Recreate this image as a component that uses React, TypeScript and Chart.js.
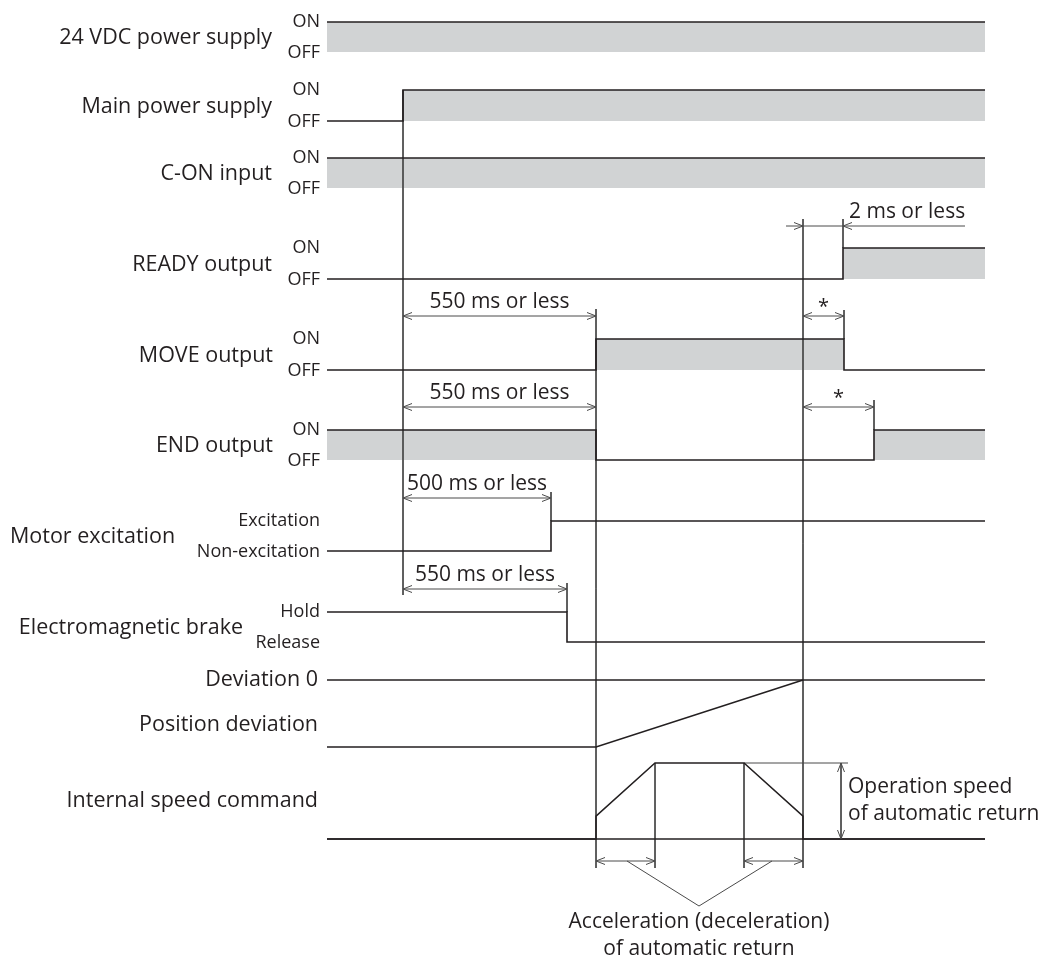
import React, { useEffect, useRef } from "react";
import { Chart, registerables } from "chart.js";

Chart.register(...registerables);

// ---------- time axis (arbitrary time units, 0 = left edge of waveforms) ----------
const X_MIN = -327;
const X_MAX = 720;
const Y_MIN = 0;
const Y_MAX = 963;

const T_START = 0;
const T_FINISH = 658;
const T_MAIN_ON = 76;
const T_EXCITE = 224;
const T_BRAKE = 240;
const T_MOVE_ON = 269;
const T_ACC_END = 328;
const T_DEC_START = 417;
const T_ZERO_DEV = 476;
const T_READY_ON = 516;
const T_MOVE_OFF = 517;
const T_END_ON = 547;

// ---------- signal rows ----------
const ROW_NAMES = [
  "24 VDC power supply",
  "Main power supply",
  "C-ON input",
  "READY output",
  "MOVE output",
  "END output",
  "Motor excitation",
  "Electromagnetic brake",
];
const ROW_HIGH_LABELS = ["ON", "ON", "ON", "ON", "ON", "ON", "Excitation", "Hold"];
const ROW_LOW_LABELS = ["OFF", "OFF", "OFF", "OFF", "OFF", "OFF", "Non-excitation", "Release"];
const ROW_HIGH_Y = [22, 90, 158, 248, 339, 430, 521, 612];
const ROW_LOW_Y = [52, 121, 188, 279, 370, 460, 551, 642];
const ROW_FILLED = [true, true, true, true, true, true, false, false];

// each signal: [time, level(0 = low, 1 = high)]
const SIG_24VDC = [[T_START, 1], [T_FINISH, 1]];
const SIG_MAIN = [[T_START, 0], [T_MAIN_ON, 0], [T_MAIN_ON, 1], [T_FINISH, 1]];
const SIG_CON = [[T_START, 1], [T_FINISH, 1]];
const SIG_READY = [[T_START, 0], [T_READY_ON, 0], [T_READY_ON, 1], [T_FINISH, 1]];
const SIG_MOVE = [[T_START, 0], [T_MOVE_ON, 0], [T_MOVE_ON, 1], [T_MOVE_OFF, 1], [T_MOVE_OFF, 0], [T_FINISH, 0]];
const SIG_END = [[T_START, 1], [T_MOVE_ON, 1], [T_MOVE_ON, 0], [T_END_ON, 0], [T_END_ON, 1], [T_FINISH, 1]];
const SIG_EXCITE = [[T_START, 0], [T_EXCITE, 0], [T_EXCITE, 1], [T_FINISH, 1]];
const SIG_BRAKE = [[T_START, 1], [T_BRAKE, 1], [T_BRAKE, 0], [T_FINISH, 0]];
const SIGNALS = [SIG_24VDC, SIG_MAIN, SIG_CON, SIG_READY, SIG_MOVE, SIG_END, SIG_EXCITE, SIG_BRAKE];

// analog rows
const DEV_ZERO_Y = 680;
const DEV_START_Y = 747;
const POS_DEV = [[T_START, 0], [T_MOVE_ON, 0], [T_ZERO_DEV, 1]]; // 1 = deviation 0
const SPEED_BASE_Y = 839;
const SPEED_TOP_Y = 763;
const SPEED = [
  [T_START, 0], [T_MOVE_ON, 0], [T_MOVE_ON, 0.3], [T_ACC_END, 1],
  [T_DEC_START, 1], [T_ZERO_DEV, 0.3], [T_ZERO_DEV, 0], [T_FINISH, 0],
];
const ANALOG_NAMES = ["Deviation 0", "Position deviation", "Internal speed command"];
const ANALOG_NAME_Y = [680, 725, 801];

// timing dimensions: [from, to, y, label]
const DIMS: [number, number, number, string][] = [
  [T_MAIN_ON, T_MOVE_ON, 316, "550 ms or less"],
  [T_MAIN_ON, T_MOVE_ON, 407, "550 ms or less"],
  [T_MAIN_ON, T_EXCITE, 498, "500 ms or less"],
  [T_MAIN_ON, T_BRAKE, 589, "550 ms or less"],
  [T_ZERO_DEV, T_MOVE_OFF, 316, "*"],
  [T_ZERO_DEV, T_END_ON, 407, "*"],
  [T_MOVE_ON, T_ACC_END, 861, ""],
  [T_DEC_START, T_ZERO_DEV, 861, ""],
];
const READY_DIM: [number, number, number, string] = [T_ZERO_DEV, T_READY_ON, 226, "2 ms or less"];

// extension (guide) lines: [time, yTop, yBottom]
const GUIDES: [number, number, number][] = [
  [T_MAIN_ON, 90, 595],
  [T_MOVE_ON, 309, 868],
  [T_ZERO_DEV, 219, 868],
  [T_READY_ON, 219, 248],
  [T_MOVE_OFF, 310, 339],
  [T_END_ON, 400, 430],
  [T_EXCITE, 492, 521],
  [T_BRAKE, 583, 612],
  [T_ACC_END, 763, 868],
  [T_DEC_START, 763, 868],
];
const T_SPEED_DIM = 514;
const T_SPEED_EXT_END = 521;
const BRACKET = [[300, 861], [372, 906], [445, 861]];

const INK = "#231f20";
const GUIDE = "#4a4a4a";
const GRAY = "#d1d3d4";
const FONT = '"Open Sans", "Noto Sans", sans-serif';

function levelY(row: number, level: number) {
  const lo = ROW_LOW_Y[row];
  const hi = ROW_HIGH_Y[row];
  return lo - level * (lo - hi);
}

function buildDatasets() {
  const ds: any[] = [];
  SIGNALS.forEach((sig, row) => {
    ds.push({
      data: sig.map(([t, l]) => ({ x: t, y: levelY(row, l) })),
      borderColor: INK,
      borderWidth: 1.6,
      backgroundColor: GRAY,
      fill: ROW_FILLED[row] ? { value: ROW_LOW_Y[row] } : false,
      pointRadius: 0,
      tension: 0,
    });
  });
  // deviation 0 reference line
  ds.push({
    data: [{ x: T_START, y: DEV_ZERO_Y }, { x: T_FINISH, y: DEV_ZERO_Y }],
    borderColor: INK, borderWidth: 1.3, pointRadius: 0, fill: false,
  });
  ds.push({
    data: POS_DEV.map(([t, l]) => ({ x: t, y: DEV_START_Y - l * (DEV_START_Y - DEV_ZERO_Y) })),
    borderColor: INK, borderWidth: 1.5, pointRadius: 0, fill: false,
  });
  // speed zero reference line
  ds.push({
    data: [{ x: T_START, y: SPEED_BASE_Y }, { x: T_FINISH, y: SPEED_BASE_Y }],
    borderColor: INK, borderWidth: 1.4, pointRadius: 0, fill: false,
  });
  ds.push({
    data: SPEED.map(([t, l]) => ({ x: t, y: SPEED_BASE_Y - l * (SPEED_BASE_Y - SPEED_TOP_Y) })),
    borderColor: INK, borderWidth: 1.5, pointRadius: 0, fill: false,
  });
  // guide & dimension lines
  const g: any[] = [];
  const brk = (x: number) => g.push({ x, y: null });
  GUIDES.forEach(([t, a, b]) => { g.push({ x: t, y: a }, { x: t, y: b }); brk(t); });
  [...DIMS].forEach(([a, b, y]) => { g.push({ x: a, y }, { x: b, y }); brk(b); });
  g.push({ x: READY_DIM[0] - 17, y: READY_DIM[2] }, { x: READY_DIM[1] + 122, y: READY_DIM[2] }); brk(0);
  g.push({ x: T_DEC_START, y: SPEED_TOP_Y }, { x: T_SPEED_EXT_END, y: SPEED_TOP_Y }); brk(0);
  g.push({ x: T_SPEED_DIM, y: SPEED_TOP_Y }, { x: T_SPEED_DIM, y: SPEED_BASE_Y }); brk(0);
  BRACKET.forEach(([t, y]) => g.push({ x: t, y }));
  ds.push({
    data: g, borderColor: GUIDE, borderWidth: 1, pointRadius: 0, fill: false, spanGaps: false,
  });
  return ds;
}

const annotatePlugin = {
  id: "annotate",
  afterDatasetsDraw(chart: any) {
    const ctx = chart.ctx as CanvasRenderingContext2D;
    const xs = chart.scales.x;
    const ys = chart.scales.y;
    const X = (t: number) => xs.getPixelForValue(t);
    const Y = (v: number) => ys.getPixelForValue(v);
    ctx.save();
    // arrow heads
    ctx.strokeStyle = GUIDE;
    ctx.lineWidth = 1;
    const head = (x: number, y: number, dx: number, dy: number) => {
      const L = 9, W = 3.5;
      ctx.beginPath();
      ctx.moveTo(x - dx * L + dy * W, y - dy * L + dx * W);
      ctx.lineTo(x, y);
      ctx.lineTo(x - dx * L - dy * W, y - dy * L - dx * W);
      ctx.stroke();
    };
    DIMS.forEach(([a, b, y]) => {
      head(X(a), Y(y), -1, 0);
      head(X(b), Y(y), 1, 0);
    });
    head(X(READY_DIM[0]), Y(READY_DIM[2]), 1, 0);
    head(X(READY_DIM[1]), Y(READY_DIM[2]), -1, 0);
    head(X(T_SPEED_DIM), Y(SPEED_TOP_Y), 0, -1);
    head(X(T_SPEED_DIM), Y(SPEED_BASE_Y), 0, 1);

    // texts
    ctx.fillStyle = INK;
    ctx.textBaseline = "middle";
    const text = (s: string, x: number, y: number, align: CanvasTextAlign, size: number) => {
      ctx.font = `${size}px ${FONT}`;
      ctx.textAlign = align;
      ctx.fillText(s, x, y);
    };
    const nameRight = [272, 272, 272, 272, 273, 273, 175, 243];
    ROW_NAMES.forEach((n, i) => {
      const mid = (ROW_HIGH_Y[i] + ROW_LOW_Y[i]) / 2 + 1;
      const x = i === 6 ? 10 : nameRight[i];
      text(n, x, Y(mid), i === 6 ? "left" : "right", 21.5);
      text(ROW_HIGH_LABELS[i], X(-7), Y(ROW_HIGH_Y[i]), "right", 18);
      text(ROW_LOW_LABELS[i], X(-7), Y(ROW_LOW_Y[i]) + 1, "right", 18);
    });
    ANALOG_NAMES.forEach((n, i) => text(n, X(-9), Y(ANALOG_NAME_Y[i]), "right", 21.5));

    DIMS.forEach(([a, b, y, label]) => {
      if (!label) return;
      if (label === "*") text(label, (X(a) + X(b)) / 2, Y(y) - 9, "center", 20);
      else text(label, (X(a) + X(b)) / 2, Y(y) - 14, "center", 21);
    });
    text(READY_DIM[3], X(READY_DIM[1]) + 6, Y(READY_DIM[2]) - 14, "left", 21);
    text("Operation speed", X(T_SPEED_EXT_END), Y(787), "left", 21);
    text("of automatic return", X(T_SPEED_EXT_END), Y(814), "left", 21);
    text("Acceleration (deceleration)", X(BRACKET[1][0]), Y(922), "center", 21);
    text("of automatic return", X(BRACKET[1][0]), Y(949), "center", 21);
    ctx.restore();
  },
};

export default function App() {
  const ref = useRef<HTMLCanvasElement | null>(null);
  useEffect(() => {
    document.body.style.margin = "0";
    if (!ref.current) return;
    const chart = new Chart(ref.current, {
      type: "line",
      data: { datasets: buildDatasets() },
      options: {
        animation: false,
        responsive: true,
        maintainAspectRatio: false,
        events: [],
        layout: { padding: 0 },
        scales: {
          x: { type: "linear", min: X_MIN, max: X_MAX, display: false },
          y: { type: "linear", min: Y_MIN, max: Y_MAX, reverse: true, display: false },
        },
        plugins: {
          legend: { display: false },
          tooltip: { enabled: false },
          filler: { drawTime: "beforeDatasetsDraw" } as any,
        },
      },
      plugins: [annotatePlugin],
    });
    return () => chart.destroy();
  }, []);
  return (
    <div style={{ width: 1047, height: 963, position: "relative", background: "#fff" }}>
      <canvas ref={ref} />
    </div>
  );
}
